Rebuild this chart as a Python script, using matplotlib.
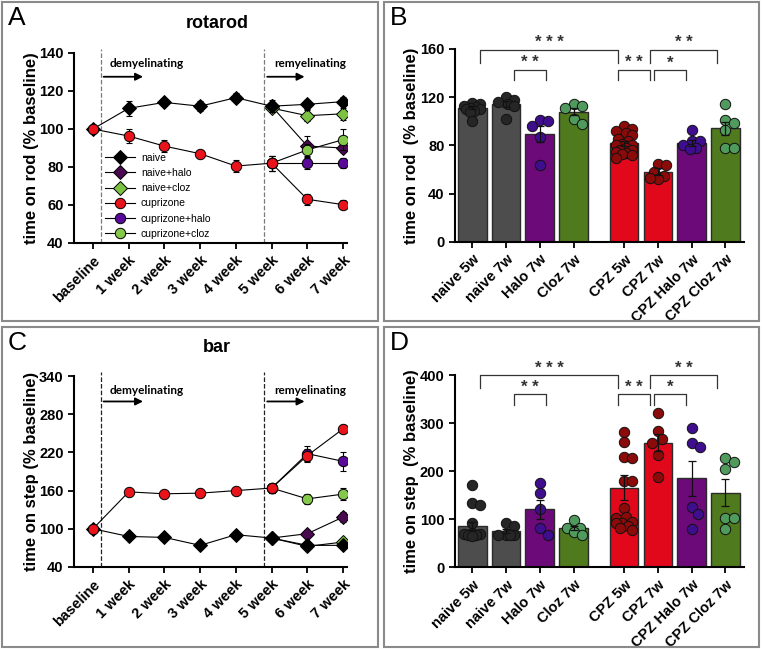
import matplotlib
matplotlib.use("Agg")
import matplotlib.pyplot as plt
import numpy as np
from matplotlib.lines import Line2D
from matplotlib.patches import Rectangle

plt.rcParams["font.family"] = ["Liberation Sans", "DejaVu Sans"]

# ---- line panels (A: rotarod, C: bar) ----
weeks = ["baseline", "1 week", "2 week", "3 week", "4 week", "5 week", "6 week", "7 week"]
late_weeks = [5, 6, 7]
series_names = ["naive", "naive+halo", "naive+cloz", "cuprizone", "cuprizone+halo", "cuprizone+cloz"]

rot_naive = [100, 110.9, 114, 112, 116.5, 112, 113, 114.4]
rot_naive_sem = [0, 4, 2, 2.5, 2.5, 3, 2.5, 2.5]
rot_cpz = [100, 96.3, 91, 87, 80.5, 82, 63, 60.2]
rot_cpz_sem = [0, 3.5, 3, 2, 3, 4, 3, 2.5]
rot_naive_halo = [112, 91, 90]
rot_naive_halo_sem = [2, 5.5, 2]
rot_naive_cloz = [111, 107, 108]
rot_naive_cloz_sem = [2, 3, 3]
rot_cpz_halo = [82, 82, 82]
rot_cpz_halo_sem = [4, 3, 2.5]
rot_cpz_cloz = [82, 89, 94.4]
rot_cpz_cloz_sem = [4, 3, 5.5]

bar_naive = [100, 88, 86.5, 74, 90.7, 85.5, 74, 74]
bar_naive_sem = [0, 2, 2, 2, 2, 2, 2, 2]
bar_cpz = [100, 158, 155, 156, 160, 164, 215, 257]
bar_cpz_sem = [0, 3, 3, 3, 6, 7, 10, 6]
bar_naive_halo = [85.5, 92.3, 118.4]
bar_naive_halo_sem = [2, 3, 8]
bar_naive_cloz = [85.5, 72.4, 79.2]
bar_naive_cloz_sem = [2, 2, 3]
bar_cpz_halo = [164, 218, 206]
bar_cpz_halo_sem = [7, 12, 15]
bar_cpz_cloz = [164, 147, 154.5]
bar_cpz_cloz_sem = [7, 8, 10]

# ---- bar panels (B: rotarod, D: bar) ----
groups = ["naive 5w", "naive 7w", "Halo 7w", "Cloz 7w", "CPZ 5w", "CPZ 7w", "CPZ Halo 7w", "CPZ Cloz 7w"]
group_x = [0, 1, 2, 3, 4.5, 5.5, 6.5, 7.5]

rod_means = [111.4, 114.2, 89.7, 107.9, 81.9, 58.2, 82, 94.3]
rod_sem = [1.5, 2.5, 6.5, 3, 2, 3, 2.5, 5.5]
rod_points = [
    [115, 114, 113, 112, 111, 110, 110, 109, 108, 100],
    [120, 118, 116, 114, 113, 102],
    [101, 100, 96, 87, 64],
    [114, 113, 111, 102, 98],
    [96, 94, 92, 90, 89, 85, 84, 81, 80, 80, 78, 76, 76, 75, 74, 73, 72, 70],
    [65, 64, 58, 55, 52, 53],
    [93, 84, 84, 80, 78, 77],
    [114, 101, 99, 93, 78, 78],
]

step_means = [86, 75.6, 120.6, 81, 165.7, 259.3, 185, 155.3]
step_sem = [8, 5, 20, 4, 26, 18, 37, 28]
step_points = [
    [171, 133, 130, 93, 72, 70, 69, 68, 67, 66],
    [93, 85, 68, 68, 68, 67],
    [175, 154, 121, 81, 67],
    [98, 81, 81, 73, 67],
    [281, 261, 229, 227, 180, 180, 124, 105, 103, 94, 93, 92, 85, 81, 78],
    [320, 284, 266, 258, 234, 187],
    [289, 258, 250, 126, 110, 79],
    [227, 220, 204, 102, 102, 79],
]

bar_colors = ["#4d4d4d", "#4d4d4d", "#6b0a78", "#4f7a1e", "#e0081a", "#e0081a", "#6b0a78", "#4f7a1e"]
dot_colors = ["#262626", "#262626", "#3f0e8f", "#4f9a5c", "#8b0a0a", "#8b0a0a", "#3f0e8f", "#4f9a5c"]

line_styles = {
    "naive": dict(marker="D", color="#000000"),
    "naive+halo": dict(marker="D", color="#4a0a50"),
    "naive+cloz": dict(marker="D", color="#7dc242"),
    "cuprizone": dict(marker="o", color="#e8131b"),
    "cuprizone+halo": dict(marker="o", color="#5a0a9a"),
    "cuprizone+cloz": dict(marker="o", color="#86c94a"),
}

fig = plt.figure(figsize=(7.62, 6.5), dpi=100)
W, H = 762.0, 650.0


def px_axes(left, top, right, bottom):
    return fig.add_axes([left / W, 1 - bottom / H, (right - left) / W, (bottom - top) / H])


def style_axes(ax):
    for s in ["top", "right"]:
        ax.spines[s].set_visible(False)
    for s in ["left", "bottom"]:
        ax.spines[s].set_linewidth(1.5)
    ax.tick_params(direction="out", length=4, width=1.3, labelsize=10.5)
    for lab in ax.get_yticklabels():
        lab.set_fontweight("bold")


def line_panel(ax, data, ylim, yticks, ylabel, dash_color, arrow_y, text_y, legend=False):
    ax.set_xlim(-0.53, 7.11)
    ax.set_ylim(*ylim)
    ax.set_yticks(yticks)
    ax.set_xticks(range(len(weeks)))
    ax.set_xticklabels(weeks, rotation=45, ha="right", rotation_mode="anchor", fontweight="bold")
    style_axes(ax)
    for xv in [0.22, 4.8]:
        ax.axvline(xv, ymin=0, ymax=1.02, color=dash_color, ls="--", lw=0.9, clip_on=False)
    for x0, x1, label, tx in [(0.22, 1.48, "demyelinating", 0.48), (4.8, 6.0, "remyelinating", 5.07)]:
        ax.annotate("", xy=(x1, arrow_y), xytext=(x0, arrow_y),
                    arrowprops=dict(arrowstyle="-|>", color="k", lw=1.3, mutation_scale=11))
        ax.text(tx, text_y, label, fontsize=8.5, fontweight="bold", family=["Lato", "DejaVu Sans"],
                va="center", ha="left")
    handles = {}
    order = ["naive+halo", "naive+cloz", "cuprizone+halo", "cuprizone+cloz", "naive", "cuprizone"]
    for z, name in enumerate(order):
        vals, sem = data[name]
        xs = range(len(weeks)) if len(vals) == len(weeks) else late_weeks
        st = line_styles[name]
        ms = 7.5 if st["marker"] == "o" else 6.8
        ax.errorbar(xs, vals, yerr=sem, color="k", lw=0.8, elinewidth=0.8, capsize=2.5,
                    capthick=0.8, zorder=2 + 2 * z, ls="-")
        ax.plot(xs, vals, ls="none", marker=st["marker"], ms=ms,
                mfc=st["color"], mec="k", mew=0.7, zorder=3 + 2 * z)
        handles[name] = Line2D([], [], color="k", lw=0.8, marker=st["marker"],
                               ms=ms, mfc=st["color"], mec="k", mew=0.7)
    ax.set_ylabel(ylabel, fontsize=12, fontweight="bold")
    ax.yaxis.set_label_coords(-0.154, 0.5)
    ax.yaxis.label.set_va("center")
    if legend:
        ax.legend([handles[n] for n in series_names], series_names, loc="upper left",
                  bbox_to_anchor=(0.115, 0.475), frameon=False, handlelength=2.8, handletextpad=0.6,
                  labelspacing=0.5, borderpad=0, borderaxespad=0,
                  prop=dict(family=["Liberation Sans Narrow", "Liberation Sans"], size=7.5))


def swarm_x(ax, x0, vals, diam_pt, half_units):
    d = diam_pt * fig.dpi / 72.0
    ys = ax.transData.transform(np.column_stack([np.full(len(vals), x0), vals]))[:, 1]
    ppu = ax.transData.transform((1, 0))[0] - ax.transData.transform((0, 0))[0]
    limit = half_units * ppu
    cands = [0.0]
    k = 1
    while k * d * 0.2 <= limit:
        cands += [k * d * 0.2, -k * d * 0.2]
        k += 1
    placed = []
    offs = np.zeros(len(vals))
    for i in np.argsort(-np.asarray(vals, dtype=float)):
        best, best_md, chosen = 0.0, -1.0, None
        for c in cands:
            md = min([np.hypot(c - px, ys[i] - py) for px, py in placed] or [1e9])
            if md >= 0.9 * d:
                chosen = c
                break
            if md > best_md:
                best, best_md = c, md
        if chosen is None:
            chosen = best
        placed.append((chosen, ys[i]))
        offs[i] = chosen
    return x0 + offs / ppu


def bar_panel(ax, means, sem, points, ylim, yticks, ylabel, brackets):
    ax.set_xlim(-0.51, 8.05)
    ax.set_ylim(*ylim)
    ax.set_yticks(yticks)
    ax.set_xticks(group_x)
    ax.set_xticklabels(groups, rotation=45, ha="right", rotation_mode="anchor", fontweight="bold")
    style_axes(ax)
    ax.bar(group_x, means, width=0.85, color=bar_colors, edgecolor="#2b2b2b", lw=1.0, zorder=2)
    for x0, pts, c in zip(group_x, points, dot_colors):
        ax.scatter(swarm_x(ax, x0, pts, 7.4, 0.29), pts, s=56, color=c, edgecolor="#111111",
                   linewidth=0.7, zorder=3)
    ax.errorbar(group_x, means, yerr=sem, fmt="none", ecolor="#111111", elinewidth=0.9,
                capsize=3, capthick=0.9, zorder=4)
    for x1, x2, ytop, yleg, label, ty in brackets:
        ax.plot([x1, x1, x2, x2], [yleg, ytop, ytop, yleg], color="#333333", lw=0.9,
                clip_on=False, zorder=5)
        ax.text((x1 + x2) / 2, ty, label.replace("*", "* ").strip(), ha="center", va="center",
                fontsize=12, fontweight="bold", color="#333333", clip_on=False)
    ax.set_ylabel(ylabel, fontsize=12, fontweight="bold")
    ax.yaxis.set_label_coords(-0.152, 0.5)
    ax.yaxis.label.set_va("center")


axA = px_axes(74, 53, 347, 243)
line_panel(axA, {
    "naive": (rot_naive, rot_naive_sem), "naive+halo": (rot_naive_halo, rot_naive_halo_sem),
    "naive+cloz": (rot_naive_cloz, rot_naive_cloz_sem), "cuprizone": (rot_cpz, rot_cpz_sem),
    "cuprizone+halo": (rot_cpz_halo, rot_cpz_halo_sem), "cuprizone+cloz": (rot_cpz_cloz, rot_cpz_cloz_sem),
}, (40, 140), range(40, 141, 20), "time on rod (% baseline)", "#7a7a7a", 127.5, 134.5, legend=True)

axC = px_axes(74, 376, 347, 567)
line_panel(axC, {
    "naive": (bar_naive, bar_naive_sem), "naive+halo": (bar_naive_halo, bar_naive_halo_sem),
    "naive+cloz": (bar_naive_cloz, bar_naive_cloz_sem), "cuprizone": (bar_cpz, bar_cpz_sem),
    "cuprizone+halo": (bar_cpz_halo, bar_cpz_halo_sem), "cuprizone+cloz": (bar_cpz_cloz, bar_cpz_cloz_sem),
}, (40, 340), range(40, 341, 60), "time on step (% baseline)", "#222222", 300, 318)

axB = px_axes(455, 49, 744, 242)
bar_panel(axB, rod_means, rod_sem, rod_points, (0, 160), range(0, 161, 40),
          "time on rod  (% baseline)", [
              (0.24, 4.32, 159.4, 148, "***", 165),
              (1.24, 2.2, 143, 134.3, "**", 148.5),
              (4.32, 5.27, 143, 134.3, "**", 148.5),
              (5.39, 6.33, 143, 134.3, "*", 148.5),
              (5.27, 7.25, 159.4, 148, "**", 165),
          ])

axD = px_axes(455, 375, 744, 567.3)
bar_panel(axD, step_means, step_sem, step_points, (0, 400), range(0, 401, 100),
          "time on step  (% baseline)", [
              (0.24, 4.32, 400, 372, "***", 414),
              (1.24, 2.2, 360, 337.6, "**", 374),
              (4.32, 5.27, 360, 337.6, "**", 374),
              (5.39, 6.33, 360, 337.6, "*", 374),
              (5.27, 7.25, 400, 372, "**", 414),
          ])

# panel frames, letters, titles
for (l, t, r, b), letter in zip([(2, 2, 378, 321), (384, 2, 759, 321),
                                 (2, 327, 378, 647), (384, 327, 759, 647)], "ABCD"):
    fig.patches.append(Rectangle((l / W, 1 - b / H), (r - l) / W, (b - t) / H, transform=fig.transFigure,
                                 fill=False, edgecolor="#8a8a8a", lw=1.5))
    fig.text((l + 6) / W, 1 - (t + 4) / H, letter, fontsize=19, va="top", ha="left")

fig.text(217 / W, 1 - 23 / H, "rotarod", fontsize=13, fontweight="bold", ha="center", va="center")
fig.text(217 / W, 1 - 348 / H, "bar", fontsize=13, fontweight="bold", ha="center", va="center")

fig.savefig("out.png", dpi=100)
